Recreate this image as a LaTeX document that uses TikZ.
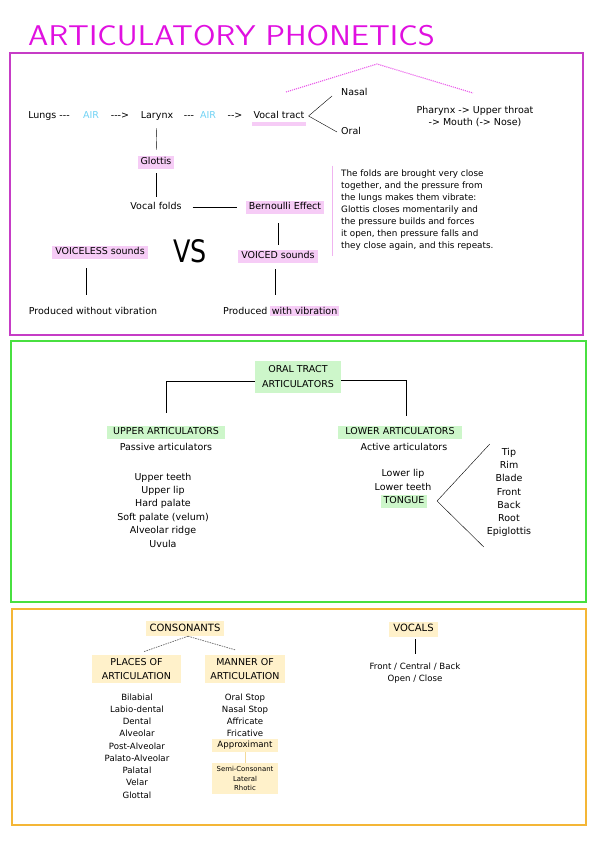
\documentclass[tikz,border=0pt]{standalone}
\usepackage{fontspec}
\setmainfont{DejaVu Sans}
\usepackage{graphicx}
\usetikzlibrary{positioning}

\definecolor{titleMag}{HTML}{E010E0}
\definecolor{frameMag}{HTML}{C63CC6}
\definecolor{pinkFill}{HTML}{F6CCF6}
\definecolor{pinkLine}{HTML}{F0B4F0}
\definecolor{airBlue}{HTML}{70D2F4}
\definecolor{frameGreen}{HTML}{48E040}
\definecolor{greenFill}{HTML}{CDF6CA}
\definecolor{frameOrange}{HTML}{F4B636}
\definecolor{yellowFill}{HTML}{FFF1CA}
\definecolor{yellowLine}{HTML}{F3DA9A}

\begin{document}
\begin{tikzpicture}
	[
		x=1pt, y=-1pt,
		node distance=0mm,
		txt/.style={
				inner sep=1pt,
				font=\fontsize{9.5}{12}\selectfont,
				text height=7pt,
				text depth=2pt,
			},
		block/.style={
				inner sep=1pt,
				align=center,
				font=\fontsize{9.5}{13.4}\selectfont,
			},
		listText/.style={
				inner sep=1pt,
				align=center,
				font=\fontsize{8.6}{12.25}\selectfont,
			},
		pinkBox/.style={
				txt,
				fill=pinkFill,
				inner xsep=3pt,
				inner ysep=2pt,
			},
		greenBox/.style={
				fill=greenFill,
				inner xsep=3pt,
				inner ysep=2pt,
			},
		yellowBox/.style={
				fill=yellowFill,
				inner xsep=4pt,
				inner ysep=3pt,
			},
		link/.style={thin, black},
		dashLine/.style={gray!80!black, line width=0.7pt, dash pattern=on 1.5pt off 1pt},
		frameLine/.style={line width=1.6pt},
	]
	\useasboundingbox (0,0) rectangle (599,848);

	\node [anchor=base west, inner sep=0pt, titleMag,
		font=\fontsize{28.5}{30}\sffamily] (title) at (28,45.5) {\scalebox{1.14}[1]{ARTICULATORY PHONETICS}};

	\draw [frameLine, frameMag] (10,53) rectangle (583,335);
	\draw [frameLine, frameGreen] (11,341) rectangle (586,602);
	\draw [frameLine, frameOrange, line width=1.3pt] (12,609) rectangle (586,825);

	% air stream
	\node [txt] (lungs) at (49,116) {Lungs -\kern0pt-\kern0pt-};
	\node [txt, airBlue] (air1) at (91,116) {AIR};
	\node [txt] (arr1) at (120,116) {-\kern0pt-\kern0pt->};
	\node [txt] (larynx) at (157,116) {Larynx};
	\node [txt] (arr2) at (189,116) {-\kern0pt-\kern0pt-};
	\node [txt, airBlue] (air2) at (208,116) {AIR};
	\node [txt] (arr3) at (235,116) {-\kern0pt->};
	\node [txt] (vt) at (279,116) {Vocal tract};
	\fill [pinkFill] ([yshift=-0.5pt]vt.south west) rectangle ([yshift=-4pt]vt.south east);

	\node [txt, anchor=west] (nasal) at (340,93) {Nasal};
	\node [txt, anchor=west] (oral) at (340,132) {Oral};
	\coordinate (vtFork) at ([xshift=3pt]vt.east);
	\draw [link] (vtFork) -- ([xshift=-8pt,yshift=-3pt]nasal.west);
	\draw [link] (vtFork) -- ([xshift=-3pt]oral.west);

	\draw [titleMag!70, densely dotted, line width=1.1pt] (286,92) -- (377,64) -- (473,93);
	\node [block, font=\fontsize{9.5}{12}\selectfont] (pharynx) at (475,117) {Pharynx -> Upper throat\\-> Mouth (-> Nose)};

	% voicing
	\node [pinkBox] (glottis) at (156,162) {Glottis};
	\node [txt] (folds) at (156,207) {Vocal folds};
	\node [pinkBox] (bern) at (285,207) {Bernoulli Effect};
	\node [pinkBox] (voiceless) at (100,252) {VOICELESS sounds};
	\node [pinkBox] (voiced) at (278,256) {VOICED sounds};
	\node [inner sep=0pt, font=\fontsize{31}{31}\selectfont] (vs) at (190,251.5) {\scalebox{0.82}[1]{VS}};
	\node [txt] (without) at (93,312) {Produced without vibration};
	\node [txt] (withVib) at (281,312) {Produced {\setlength\fboxsep{1.5pt}\colorbox{pinkFill}{with vibration}}};

	\draw [link, shorten <=6.5pt, shorten >=5.5pt] (larynx) -- (glottis);
	\draw [link, shorten <=4.5pt, shorten >=4.5pt] (glottis) -- (folds);
	\draw [link, shorten <=10pt, shorten >=8.5pt] (folds) -- (bern);
	\draw [link, shorten <=9.5pt, shorten >=4.5pt] (voiced.north |- bern.south) -- (voiced.north);
	\draw [link, shorten <=9.5pt, shorten >=11.5pt] ([xshift=-14pt]voiceless.south) -- ([xshift=-14pt]voiceless.south |- without.north);
	\draw [link, shorten <=6.5pt, shorten >=11pt] ([xshift=-3pt]voiced.south) -- ([xshift=-3pt]voiced.south |- withVib.north);

	\node [block, anchor=north west, align=left, font=\fontsize{8.8}{12.1}\selectfont] (note) at (340,168.5)
		{The folds are brought very close\\together, and the pressure from\\the lungs makes them vibrate:\\Glottis closes momentarily and\\the pressure builds and forces\\it open, then pressure falls and\\they close again, and this repeats.};
	\draw [pinkLine, line width=0.8pt] ([xshift=-8pt,yshift=3pt]note.north west) -- ([xshift=-8pt,yshift=-4pt]note.south west);

	% oral tract
	\node [block, greenBox, minimum width=86pt, minimum height=32pt, font=\fontsize{9.5}{15}\selectfont] (oralTract) at (298,377) {ORAL TRACT\\ARTICULATORS};
	\node [txt, greenBox, minimum width=118pt] (upper) at (166,432) {UPPER ARTICULATORS};
	\node [txt, below=4pt of upper] (passive) {Passive articulators};
	\node [block] (upperList) at (163,510) {Upper teeth\\Upper lip\\Hard palate\\Soft palate (velum)\\Alveolar ridge\\Uvula};
	\draw [link] ([yshift=-4pt]oralTract.west) -| ([yshift=12.5pt]upper.north);

	\node [txt, greenBox, minimum width=124pt] (lower) at (400,432) {LOWER ARTICULATORS};
	\node [txt, below=4pt of lower, xshift=4pt] (active) {Active articulators};
	\draw [link] ([yshift=-3pt]oralTract.east) -| ([xshift=6pt,yshift=9.5pt]lower.north);
	\node [txt] (lowerLip) at (403,474) {Lower lip};
	\node [txt] (lowerTeeth) at (403,488) {Lower teeth};
	\node [txt, greenBox] (tongue) at (404,501) {TONGUE};
	\node [block, font=\fontsize{9.5}{13.2}\selectfont] (tongueParts) at (509,492.5) {Tip\\Rim\\Blade\\Front\\Back\\Root\\Epiglottis};
	\coordinate (tongueFork) at ([xshift=9.5pt]tongue.east);
	\draw [link] ([xshift=4pt,yshift=3pt]tongueParts.north west) -- (tongueFork) -- ([xshift=-2pt,yshift=-9pt]tongueParts.south west);

	% consonants and vocals
	\node [txt, yellowBox, font=\fontsize{10}{12}\selectfont] (cons) at (185,628.5) {CONSONANTS};
	\node [block, yellowBox, minimum width=89pt, minimum height=28pt, font=\fontsize{9.5}{14}\selectfont] (places) at (136.5,669) {PLACES OF\\ARTICULATION};
	\node [block, yellowBox, minimum width=80pt, minimum height=28pt, font=\fontsize{9.5}{14}\selectfont] (manner) at (245,669) {MANNER OF\\ARTICULATION};
	\draw [dashLine] ([xshift=3pt]cons.south) -- ([xshift=7pt,yshift=3pt]places.north);
	\draw [dashLine] ([xshift=3pt]cons.south) -- ([xshift=-10pt,yshift=5pt]manner.north);

	\node [listText] (placeList) at (137,746) {Bilabial\\Labio-dental\\Dental\\Alveolar\\Post-Alveolar\\Palato-Alveolar\\Palatal\\Velar\\Glottal};
	\node [listText, font=\fontsize{8.6}{12}\selectfont] (mannerList) at (245,715) {Oral Stop\\Nasal Stop\\Affricate\\Fricative};
	\node [txt, yellowBox, inner ysep=2pt, minimum width=66pt, font=\fontsize{8.6}{12}\selectfont] (approx) at (245,745) {Approximant};
	\node [listText, yellowBox, minimum width=66pt, minimum height=31pt, font=\fontsize{6.9}{9.5}\selectfont] (semi) at (245,778.5) {Semi-Consonant\\Lateral\\Rhotic};
	\draw [yellowLine, line width=1pt] (approx) -- (semi);

	\node [txt, yellowBox, font=\fontsize{10}{12}\selectfont] (vocals) at (413.5,629) {VOCALS};
	\node [listText, font=\fontsize{8.6}{12}\selectfont] (vowelSpace) at (415,673) {Front / Central / Back\\Open / Close};
	\draw [link, shorten <=2.5pt, shorten >=8pt] ([xshift=2pt]vocals.south) -- ([xshift=2pt]vocals.south |- vowelSpace.north);
\end{tikzpicture}
\end{document}
